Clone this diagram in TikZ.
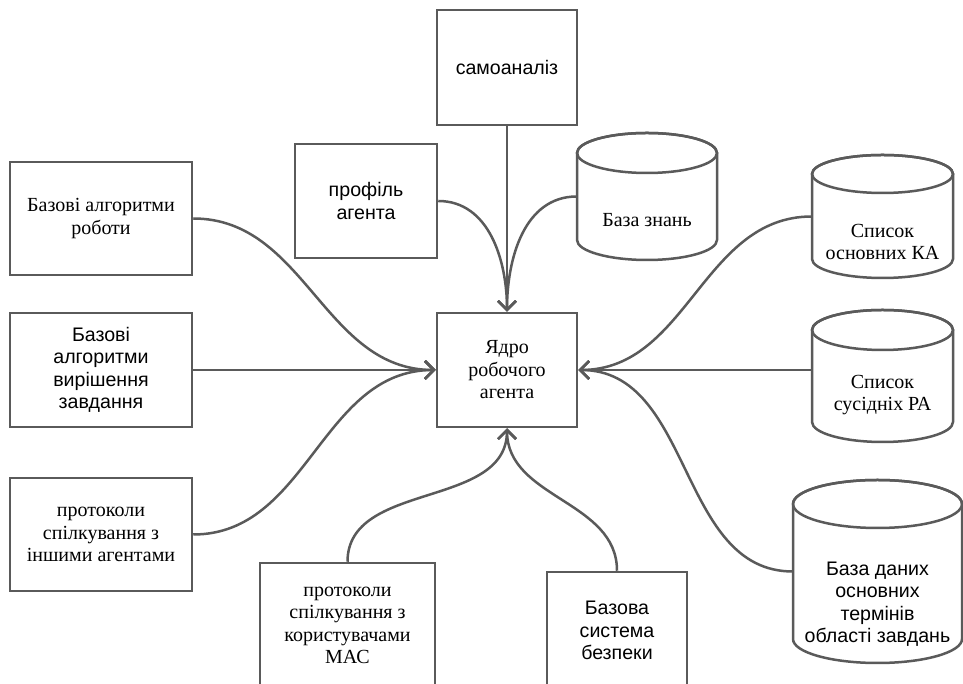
\documentclass[tikz,border=0pt]{standalone}
\usepackage{fontspec}
\setmainfont{Liberation Serif}
\newfontfamily\sansf{Liberation Sans}
\usetikzlibrary{arrows.meta}
\definecolor{ln}{HTML}{5A5A5A}
\tikzset{
 box/.style={draw=ln, line width=2.5pt, fill=white, rectangle, align=center, inner sep=0pt, font=\fontsize{20}{22.5}\selectfont},
 sbox/.style={box, font=\sansf\fontsize{19.6}{22.5}\selectfont},
 cylarea/.style={rectangle, inner sep=0pt},
 ctext/.style={align=center, inner sep=0pt, font=\fontsize{20}{22.5}\selectfont},
 sctext/.style={ctext, font=\sansf\fontsize{19.6}{22.5}\selectfont},
 cylline/.style={draw=ln, line width=2.5pt},
 arr/.style={draw=ln, line width=2.5pt, -{Straight Barb[length=9pt,width=18pt]}},
}
\newcommand\cylshape[5]{%
 \draw[cylline, fill=white] (#1-#4,#2-#5) -- (#1-#4,#3+#5) arc[start angle=180,end angle=360,x radius=#4,y radius=#5] -- (#1+#4,#2-#5) arc[start angle=0,end angle=180,x radius=#4,y radius=#5] -- cycle;
 \draw[cylline] (#1,#2-#5) ellipse [x radius=#4, y radius=#5];}
\begin{document}
\begin{tikzpicture}[x=1pt,y=1pt]
\useasboundingbox (0,0) rectangle (963,684);
\clip (0,0) rectangle (963,684);
\fill[white] (0,0) rectangle (963,684);
% boxes
\node[sbox, minimum width=140pt, minimum height=115pt] (samo) at (507,616.5) {самоаналіз};
\node[box, minimum width=140pt, minimum height=114pt] (core) at (507,314) {Ядро\\робочого\\агента};
\node[sbox, minimum width=142pt, minimum height=114pt] (prof) at (366,483) {профіль\\агента};
\node[box, minimum width=182pt, minimum height=113pt] (alg1) at (101,465.5) {Базові алгоритми\\роботи};
\node[sbox, minimum width=182pt, minimum height=114pt] (alg2) at (101,314) {Базові\\алгоритми\\вирішення\\завдання};
\node[box, minimum width=182pt, minimum height=113pt] (proto1) at (101,149.5) {протоколи\\спілкування з\\іншими агентами};
\node[box, minimum width=175pt, minimum height=125pt] (proto2) at (347.5,58.5) {протоколи\\спілкування з\\користувачами\\МАС};
\node[sbox, minimum width=140pt, minimum height=117pt] (sec) at (617,53.5) {Базова\\система\\безпеки};
% cylinders
\cylshape{647}{551}{424}{70}{20}
\node[cylarea, minimum width=140pt, minimum height=127pt] (kb) at (647,487.5) {};
\node[ctext] (kbt) at (647,464) {База знань};
\cylshape{882.5}{529}{406}{70.5}{19}
\node[cylarea, minimum width=141pt, minimum height=123pt] (ka) at (882.5,467.5) {};
\node[ctext] (kat) at (882.5,442) {Список\\основних КА};
\cylshape{882.5}{374}{242}{70.5}{20}
\node[cylarea, minimum width=141pt, minimum height=132pt] (ra) at (882.5,308) {};
\node[ctext] (rat) at (882.5,289) {Список\\сусідніх РА};
\cylshape{877.5}{204}{21}{84.5}{24}
\node[cylarea, minimum width=169pt, minimum height=183pt] (db) at (877.5,112.5) {};
\node[sctext] (dbt) at (877.5,80) {База даних\\основних\\термінів\\області завдань};
% connectors
\draw[arr] (samo.south) -- (core.north);
\draw[arr] (prof.east) to[out=0,in=90] (core.north);
\draw[arr] (kb.west) to[out=180,in=90] (core.north);
\draw[arr] (alg1.east) to[out=0,in=180] (core.west);
\draw[arr] (alg2.east) -- (core.west);
\draw[arr] (proto1.east) to[out=0,in=180] (core.west);
\draw[arr] (proto2.north) to[out=90,in=-90] (core.south);
\draw[arr] (sec.north) to[out=90,in=-90] (core.south);
\draw[arr] (ka.west) to[out=180,in=0] (core.east);
\draw[arr] (ra.west |- core.east) -- (core.east);
\draw[arr] (db.west) to[out=180,in=0] (core.east);
\end{tikzpicture}
\end{document}
